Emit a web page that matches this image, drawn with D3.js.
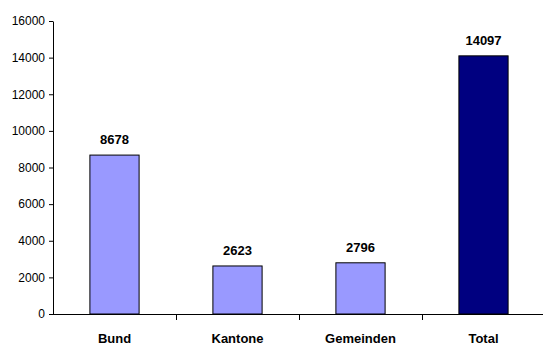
<!DOCTYPE html>
<html>
<head>
<meta charset="utf-8">
<script src="https://cdn.jsdelivr.net/npm/d3@7"></script>
<style>
  body { margin: 0; background: #fff; }
  svg { display: block; font-family: "Liberation Sans", Arial, sans-serif; }
</style>
</head>
<body>
<svg id="chart" width="543" height="347"></svg>
<script>
var categories = ['Bund', 'Kantone', 'Gemeinden', 'Total'];
var values = [8678, 2623, 2796, 14097];
var barColors = ['#9999ff', '#9999ff', '#9999ff', '#000080'];
var yTicks = [0, 2000, 4000, 6000, 8000, 10000, 12000, 14000, 16000];

var svg = d3.select('#chart');

var x = d3.scaleBand().domain(categories).range([53, 545]).paddingInner(0).paddingOuter(0);
var y = d3.scaleLinear().domain([0, 16000]).range([314, 21]);

// y axis
var yAxis = svg.append('g')
  .attr('transform', 'translate(53,0)')
  .call(d3.axisLeft(y).tickValues(yTicks).tickSize(4).tickSizeOuter(0).tickFormat(d3.format('d')));
yAxis.select('.domain').attr('stroke', '#000');
yAxis.selectAll('.tick line').attr('stroke', '#000');
yAxis.selectAll('.tick text').attr('font-size', '12px').attr('fill', '#000').attr('x', -8)
  .attr('font-family', '"Liberation Sans", Arial, sans-serif');

// bars
var bw = x.bandwidth() * 0.4;
svg.selectAll('rect.bar')
  .data(values)
  .enter().append('rect')
  .attr('class', 'bar')
  .attr('x', function(d, i) { return x(categories[i]) + (x.bandwidth() - bw) / 2; })
  .attr('y', function(d) { return y(d); })
  .attr('width', bw)
  .attr('height', function(d) { return y(0) - y(d); })
  .attr('fill', function(d, i) { return barColors[i]; })
  .attr('stroke', '#000')
  .attr('stroke-width', 1);

// x axis line with ticks at category boundaries
svg.append('line')
  .attr('x1', 53).attr('x2', 545)
  .attr('y1', y(0) + 0.5).attr('y2', y(0) + 0.5)
  .attr('stroke', '#000');
svg.selectAll('line.xtick')
  .data(categories.slice(1))
  .enter().append('line')
  .attr('class', 'xtick')
  .attr('x1', function(d) { return Math.round(x(d)) + 0.5; })
  .attr('x2', function(d) { return Math.round(x(d)) + 0.5; })
  .attr('y1', y(0)).attr('y2', y(0) + 6)
  .attr('stroke', '#000');

// category labels
svg.selectAll('text.cat')
  .data(categories)
  .enter().append('text')
  .attr('class', 'cat')
  .attr('x', function(d) { return x(d) + x.bandwidth() / 2; })
  .attr('y', 343)
  .attr('text-anchor', 'middle')
  .attr('font-size', '13px')
  .attr('font-weight', 'bold')
  .text(function(d) { return d; });

// value labels
svg.selectAll('text.val')
  .data(values)
  .enter().append('text')
  .attr('class', 'val')
  .attr('x', function(d, i) { return x(categories[i]) + x.bandwidth() / 2; })
  .attr('y', function(d) { return y(d) - 11; })
  .attr('text-anchor', 'middle')
  .attr('font-size', '13px')
  .attr('font-weight', 'bold')
  .text(function(d) { return d; });
</script>
</body>
</html>
